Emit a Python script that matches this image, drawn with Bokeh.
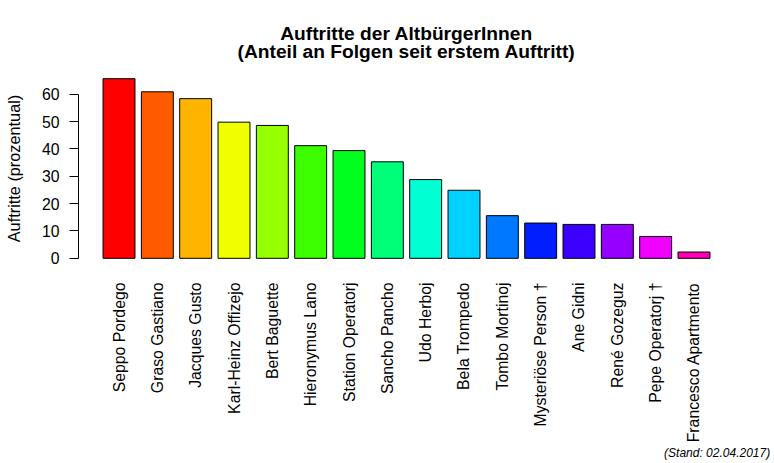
import math
from bokeh.plotting import figure
from bokeh.models import Range1d, FixedTicker, Title
from bokeh.embed import file_html
from bokeh.resources import INLINE

# ---- data ----
names = ["Seppo Pordego", "Graso Gastiano", "Jacques Gusto", "Karl-Heinz Offizejo",
         "Bert Baguette", "Hieronymus Lano", "Station Operatorj", "Sancho Pancho",
         "Udo Herboj", "Bela Trompedo", "Tombo Mortinoj", "Mysteriöse Person †",
         "Ane Gidni", "René Gozeguz", "Pepe Operatorj †", "Francesco Apartmento"]
values = [65.7, 60.9, 58.4, 49.8, 48.6, 41.2, 39.4, 35.3,
          28.8, 24.9, 15.6, 12.9, 12.4, 12.4, 8.0, 2.3]
colors = ["#FF0000", "#FF5A00", "#FFB400", "#F0FF00", "#96FF00", "#3CFF00",
          "#00FF1E", "#00FF78", "#00FFD2", "#00D2FF", "#0078FF", "#001EFF",
          "#3C00FF", "#9600FF", "#F000FF", "#FF00B4"]
y_ticks = [0, 10, 20, 30, 40, 50, 60]
title1 = "Auftritte der AltbürgerInnen"
title2 = "(Anteil an Folgen seit erstem Auftritt)"
ylab = "Auftritte (prozentual)"
stand = "(Stand:  02.04.2017)"

FONT = "Liberation Sans"

# R barplot geometry: width 1, space 0.2
n = len(values)
centers = [round(0.7 + 1.2 * i, 2) for i in range(n)]
x0 = 0.2 - 0.04 * (1.2 * n)
x1 = 1.2 * n + 0.04 * (1.2 * n)
ymax = max(values)
y0 = -0.04 * ymax
y1 = ymax * 1.04

W, H = 774, 463
BL, BR, BT, BB = 78, 40, 71, 198

p = figure(width=W, height=H, output_backend="svg", toolbar_location=None,
           x_range=Range1d(x0, x1), y_range=Range1d(y0, y1),
           min_border_left=BL, min_border_right=BR, min_border_top=BT, min_border_bottom=BB)
p.outline_line_color = None
p.grid.visible = False
p.background_fill_color = "white"
p.border_fill_color = "white"

p.vbar(x=centers, top=values, bottom=0, width=1.0, fill_color=colors,
       line_color="black", line_width=1)

# y axis
ya = p.yaxis[0]
ya.ticker = FixedTicker(ticks=y_ticks)
ya.bounds = (0, 60)
ya.axis_line_color = "black"
ya.major_tick_line_color = "black"
ya.major_tick_out = 9
ya.major_tick_in = 0
ya.minor_tick_line_color = None
ya.major_label_standoff = 10
ya.major_label_text_font = FONT
ya.major_label_text_font_size = "15.8px"
ya.major_label_text_color = "black"
ya.axis_label = ylab
ya.axis_label_text_font = FONT
ya.axis_label_text_font_size = "16.3px"
ya.axis_label_text_font_style = "normal"
ya.axis_label_text_color = "black"
ya.axis_label_standoff = 16

# x axis
xa = p.xaxis[0]
xa.ticker = FixedTicker(ticks=centers)
xa.major_label_overrides = {c: nm for c, nm in zip(centers, names)}
xa.axis_line_color = None
xa.major_tick_line_color = None
xa.minor_tick_line_color = None
xa.major_tick_out = 0
xa.major_tick_in = 0
xa.major_label_orientation = math.pi / 2
xa.major_label_standoff = 17
xa.major_label_text_font = FONT
xa.major_label_text_font_size = "15.8px"
xa.major_label_text_color = "black"

# titles (second line added first: it sits closest to the plot)
p.add_layout(Title(text=title2, align="center", vertical_align="top",
                   standoff=16, text_font=FONT, text_font_size="19.2px",
                   text_font_style="bold", text_color="black"),
             "above")
p.add_layout(Title(text=title1, align="center", vertical_align="bottom",
                   standoff=-22, text_font=FONT, text_font_size="19.2px",
                   text_font_style="bold", text_color="black"),
             "above")
p.add_layout(Title(text=stand, align="right", vertical_align="top", offset=-39,
                   standoff=0, text_font=FONT, text_font_size="12px",
                   text_font_style="italic", text_color="black"),
             "below")

open("out.html", "w").write(file_html(p, INLINE))
